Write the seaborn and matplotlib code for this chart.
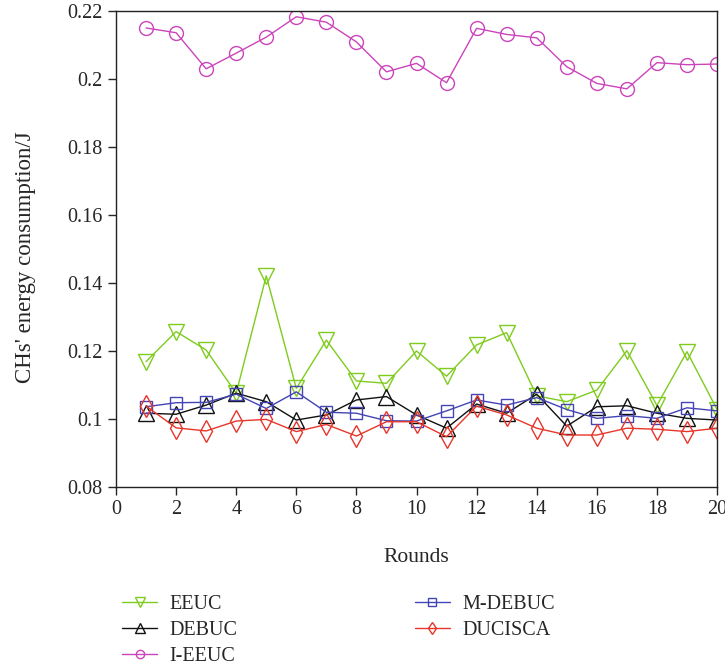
import numpy as np
import matplotlib
matplotlib.use("Agg")
import matplotlib.pyplot as plt
import seaborn as sns
import pandas as pd

rounds = list(range(1, 21))

eeuc = [0.1169, 0.1257, 0.1203, 0.1076, 0.1421, 0.1090, 0.1232, 0.1112, 0.1105, 0.1200,
        0.1126, 0.1218, 0.1254, 0.1068, 0.1051, 0.1085, 0.1201, 0.1040, 0.1198, 0.1028]
debuc = [0.1017, 0.1014, 0.1041, 0.1076, 0.1051, 0.0997, 0.1012, 0.1056, 0.1066, 0.1012,
         0.0973, 0.1044, 0.1017, 0.1073, 0.0979, 0.1036, 0.1039, 0.1017, 0.1002, 0.0997]
i_eeuc = [0.2150, 0.2136, 0.2030, 0.2076, 0.2123, 0.2183, 0.2167, 0.2109, 0.2021, 0.2046,
          0.1989, 0.2149, 0.2131, 0.2121, 0.2036, 0.1987, 0.1971, 0.2048, 0.2042, 0.2044]
m_debuc = [0.1036, 0.1048, 0.1049, 0.1073, 0.1031, 0.1080, 0.1020, 0.1017, 0.0995, 0.0994,
           0.1024, 0.1056, 0.1041, 0.1063, 0.1028, 0.1002, 0.1010, 0.1002, 0.1033, 0.1024]
ducisca = [0.1038, 0.0974, 0.0965, 0.0994, 0.0999, 0.0963, 0.0984, 0.0950, 0.0992, 0.0992,
           0.0948, 0.1038, 0.1012, 0.0973, 0.0953, 0.0953, 0.0973, 0.0970, 0.0963, 0.0973]

series = {"EEUC": eeuc, "DEBUC": debuc, "I-EEUC": i_eeuc, "M-DEBUC": m_debuc, "DUCISCA": ducisca}
# kleur, marker, grootte
styles = {
    "EEUC": ("#7fcb1e", "v", 11),
    "DEBUC": ("#111111", "^", 11),
    "I-EEUC": ("#cc44bb", "o", 10),
    "M-DEBUC": ("#4444b4", "s", 8.5),
    "DUCISCA": ("#e8352a", "d", 11),
}

rows = []
for name, vals in series.items():
    for r, v in zip(rounds, vals):
        rows.append({"Rounds": r, "energy": v, "alg": name})
df = pd.DataFrame(rows)

sns.set_style("ticks")
plt.rcParams["font.family"] = ["Liberation Serif", "DejaVu Serif"]
plt.rcParams["font.size"] = 14.5

fig = plt.figure(figsize=(7.25, 6.69), dpi=100)
ax = fig.add_axes([0.16, 0.272, 0.829, 0.7116])

for name in series:
    c, m, ms = styles[name]
    sns.lineplot(data=df[df["alg"] == name], x="Rounds", y="energy", ax=ax,
                 color=c, marker=m, markersize=ms, markerfacecolor="none",
                 markeredgecolor=c, markeredgewidth=1.0, linewidth=1.0, label=name)

ax.set_xlim(0, 20)
ax.set_ylim(0.08, 0.22)
ax.set_xticks(np.arange(0, 21, 2))
yt = np.round(np.arange(0.08, 0.2201, 0.02), 2)
ax.set_yticks(yt)
ax.set_yticklabels([f"{t:g}" for t in yt])
ax.tick_params(direction="out", length=5.5, width=1, labelsize=14.5, pad=4)
for s in ax.spines.values():
    s.set_visible(True)
    s.set_linewidth(1.0)
    s.set_color("#222222")

ax.set_xlabel("Rounds", fontsize=15.5)
ax.set_ylabel("CHs' energy consumption/J", fontsize=16.5)
ax.xaxis.set_label_coords(0.5, -0.128)
ax.yaxis.set_label_coords(-0.133, 0.483)

ax.get_legend().remove()
h, l = ax.get_legend_handles_labels()
fig.legend(h, l, ncol=2, frameon=False, loc="upper left",
           bbox_to_anchor=(0.1545, 0.1256), borderpad=0, handlelength=1.75,
           handletextpad=0.6, columnspacing=8.8, labelspacing=0.345,
           markerscale=0.6, fontsize=14.5)

fig.savefig("out.png", dpi=100)
